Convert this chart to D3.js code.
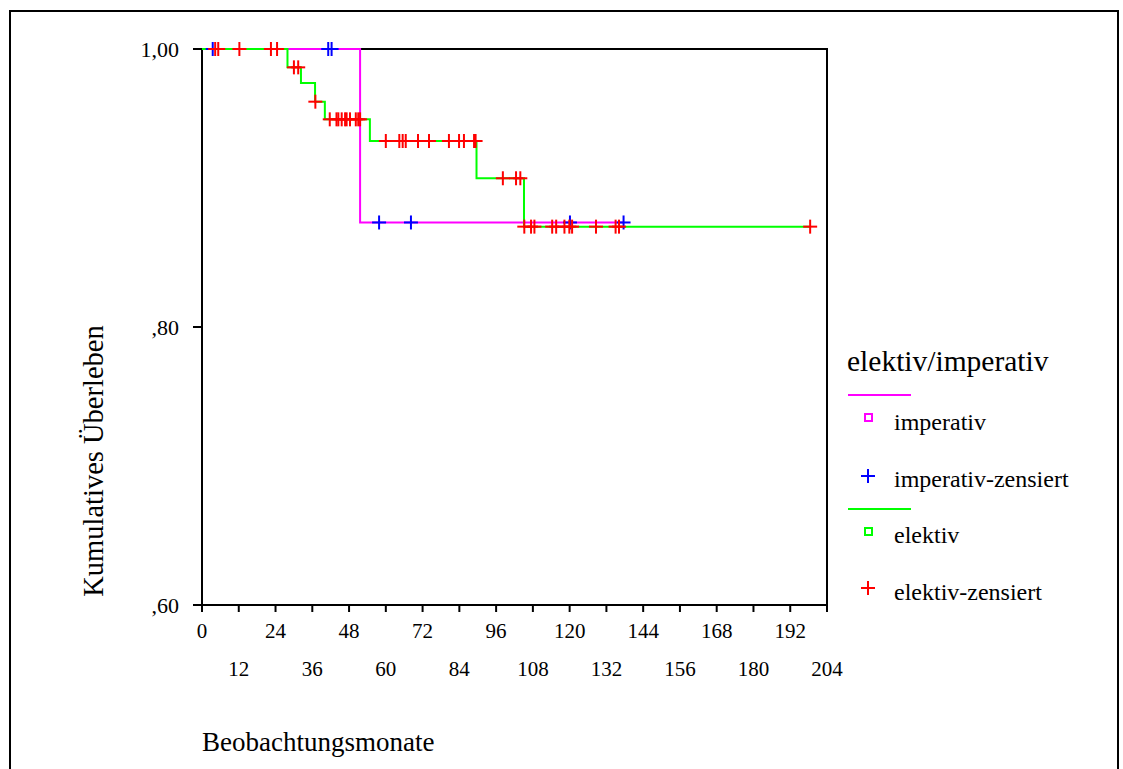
<!DOCTYPE html>
<html>
<head>
<meta charset="utf-8">
<script src="https://cdn.jsdelivr.net/npm/d3@7"></script>
<style>
  body { margin: 0; background: #fff; }
  text { font-family: "Liberation Serif", "Times New Roman", serif; fill: #000; }
</style>
</head>
<body>
<div id="chart"></div>
<script>
// Kaplan-Meier curves, values

// imperativ group
const impTimes = [0, 51.6];
const impSurv = [1.0, 0.8752];
const impEnd = 137.6;
const impCensored = [3.5, 41.2, 42.3, 57.8, 68.2, 120.1, 137.6];

// elektiv group
const elkTimes = [0, 27.9, 32.3, 36.9, 40.1, 54.8, 89.6, 105.1];
const elkSurv = [1.0, 0.9868, 0.9755, 0.9621, 0.9494, 0.9338, 0.907, 0.8722];
const elkEnd = 198.5;
const elkCensored = [4.3, 5.3, 12.2, 22.5, 24.5, 30, 31.4, 37.0,
  41.7, 43.9, 44.5, 45.6, 46.7, 47.2, 48.3, 50.2, 51.0, 51.6,
  60, 64.4, 65.5, 66.5, 70.5, 74.1, 80.6, 83.9, 85.5, 88.8, 89.3,
  98.2, 102.5, 103.9,
  105.2, 107.4, 108.5, 114.3, 115.6, 118.3, 119.9, 120.8, 128.6, 135, 136.1, 198.5];

// axes
const xTicks = d3.range(0, 205, 12);
const yTicks = [0.6, 0.8, 1.0];
const yTickLabels = [",60", ",80", "1,00"];

const legendTitle = "elektiv/imperativ";
const legendItems = ["imperativ", "imperativ-zensiert", "elektiv", "elektiv-zensiert"];

const W = 1123, H = 769;
const svg = d3.select("#chart").append("svg")
  .attr("width", W)
  .attr("height", H);

svg.append("rect").attr("width", W).attr("height", H).attr("fill", "#fff");

// outer frame
svg.append("rect")
  .attr("x", 10).attr("y", 11)
  .attr("width", 1108).attr("height", 800)
  .attr("fill", "none").attr("stroke", "#000").attr("stroke-width", 2);

const x = d3.scaleLinear().domain([0, 204]).range([202, 827]);
const y = d3.scaleLinear().domain([0.6, 1.0]).range([605, 49]);

// plot box
svg.append("rect")
  .attr("x", x(0)).attr("y", y(1))
  .attr("width", x(204) - x(0)).attr("height", y(0.6) - y(1))
  .attr("fill", "none").attr("stroke", "#000").attr("stroke-width", 2);

// y ticks
const yAxis = svg.append("g");
yAxis.selectAll("line").data(yTicks).enter().append("line")
  .attr("x1", x(0) - 9).attr("x2", x(0))
  .attr("y1", d => y(d)).attr("y2", d => y(d))
  .attr("stroke", "#000").attr("stroke-width", 2);
yAxis.selectAll("text").data(yTicks).enter().append("text")
  .attr("x", 179)
  .attr("y", d => y(d))
  .attr("dy", "0.35em")
  .attr("text-anchor", "end")
  .style("font-size", "22px")
  .text((d, i) => yTickLabels[i]);

// x ticks, labels alternate between two rows
const xAxis = svg.append("g");
xAxis.selectAll("line").data(xTicks).enter().append("line")
  .attr("x1", d => x(d)).attr("x2", d => x(d))
  .attr("y1", y(0.6)).attr("y2", y(0.6) + 7)
  .attr("stroke", "#000").attr("stroke-width", 2);
xAxis.selectAll("text").data(xTicks).enter().append("text")
  .attr("x", d => x(d))
  .attr("y", (d, i) => i % 2 === 0 ? 638 : 676)
  .attr("text-anchor", "middle")
  .style("font-size", "21px")
  .text(d => d);

// axis titles
svg.append("text")
  .attr("x", 202).attr("y", 751)
  .style("font-size", "27px")
  .text("Beobachtungsmonate");

svg.append("text")
  .attr("transform", "translate(103,461) rotate(-90)")
  .attr("text-anchor", "middle")
  .style("font-size", "28.5px")
  .text("Kumulatives Überleben");

// step path helper
function stepPoints(times, surv, end) {
  let pts = times.map((t, i) => [t, surv[i]]);
  pts.push([end, surv[surv.length - 1]]);
  return pts;
}
function survAt(times, surv, t) {
  let s = surv[0];
  for (let i = 0; i < times.length; i++) if (times[i] <= t) s = surv[i];
  return s;
}

const line = d3.line()
  .x(d => x(d[0]))
  .y(d => y(d[1]))
  .curve(d3.curveStepAfter);

svg.append("path")
  .datum(stepPoints(impTimes, impSurv, impEnd))
  .attr("d", line)
  .attr("fill", "none").attr("stroke", "#ff00ff").attr("stroke-width", 2);

svg.append("path")
  .datum(stepPoints(elkTimes, elkSurv, elkEnd))
  .attr("d", line)
  .attr("fill", "none").attr("stroke", "#00ff00").attr("stroke-width", 2);

// censor marks
function plus(g, cx, cy, color) {
  g.append("line").attr("x1", cx - 7).attr("x2", cx + 7).attr("y1", cy).attr("y2", cy)
    .attr("stroke", color).attr("stroke-width", 2);
  g.append("line").attr("x1", cx).attr("x2", cx).attr("y1", cy - 7).attr("y2", cy + 7)
    .attr("stroke", color).attr("stroke-width", 2);
}

const marks = svg.append("g");
impCensored.forEach(t => plus(marks, x(t), y(survAt(impTimes, impSurv, t)), "#0000ff"));
elkCensored.forEach(t => plus(marks, x(t), y(survAt(elkTimes, elkSurv, t)), "#ff0000"));

// legend
const lg = svg.append("g");
lg.append("text").attr("x", 847).attr("y", 371).style("font-size", "29.5px").text(legendTitle);

lg.append("line").attr("x1", 848).attr("x2", 911).attr("y1", 395).attr("y2", 395)
  .attr("stroke", "#ff00ff").attr("stroke-width", 2);
lg.append("rect").attr("x", 865).attr("y", 414).attr("width", 7).attr("height", 7)
  .attr("fill", "none").attr("stroke", "#ff00ff").attr("stroke-width", 2);
lg.append("text").attr("x", 894).attr("y", 430).style("font-size", "24px").text(legendItems[0]);

plus(lg, 868, 476, "#0000ff");
lg.append("text").attr("x", 894).attr("y", 487).style("font-size", "24px").text(legendItems[1]);

lg.append("line").attr("x1", 848).attr("x2", 911).attr("y1", 509).attr("y2", 509)
  .attr("stroke", "#00ff00").attr("stroke-width", 2);
lg.append("rect").attr("x", 865).attr("y", 528).attr("width", 7).attr("height", 7)
  .attr("fill", "none").attr("stroke", "#00ff00").attr("stroke-width", 2);
lg.append("text").attr("x", 894).attr("y", 543).style("font-size", "24px").text(legendItems[2]);

plus(lg, 868, 588, "#ff0000");
lg.append("text").attr("x", 894).attr("y", 600).style("font-size", "24px").text(legendItems[3]);
</script>
</body>
</html>
